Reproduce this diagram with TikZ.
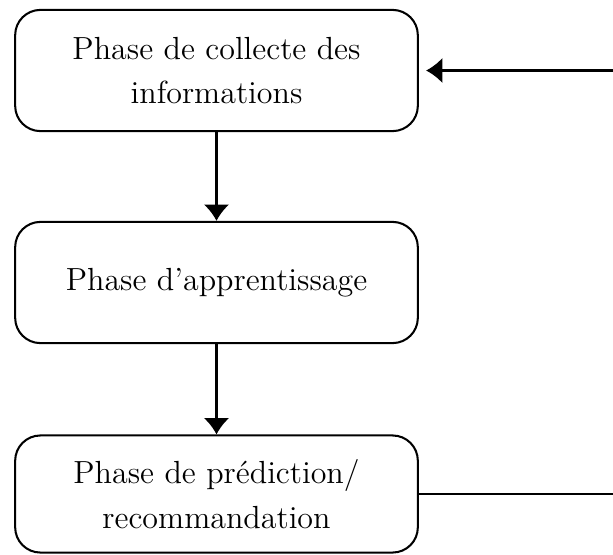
\documentclass[tikz,border=0pt]{standalone}
\usepackage{tikz}
\usetikzlibrary{arrows.meta, positioning, calc}

\tikzset{
  phasebox/.style={draw, line width=0.85pt, rounded corners=10.5pt, align=center,
    minimum width=5.88cm, minimum height=1.77cm, font=\fontsize{13.3}{18.6}\selectfont, inner sep=0pt},
  flow/.style={line width=0.85pt, -{Latex[length=6.8pt, width=10.6pt]}}
}

\begin{document}
\begin{tikzpicture}[x=0.0146cm, y=-0.0146cm]
  \useasboundingbox (0,0) rectangle (613,554);

  \node[phasebox] (collecte) at (216.5,70.5) {Phase de collecte des\\informations};
  \node[phasebox] (apprent) at (216.5,282.5) {Phase d'apprentissage};
  \node[phasebox, minimum height=1.71cm] (predict) at (216.5,494) {Phase de prédiction/\\recommandation};

  \draw[flow] (collecte) -- (apprent);
  \draw[flow] (apprent) -- (predict);

  % retour vers la collecte
  \coordinate (coin) at (625,0);
  \draw[flow, shorten >=3pt] (predict.east) -| (coin |- collecte.east) -- (collecte.east);
\end{tikzpicture}
\end{document}
